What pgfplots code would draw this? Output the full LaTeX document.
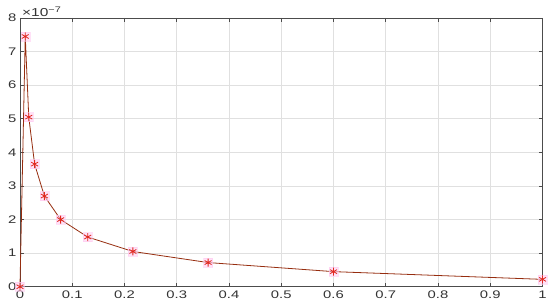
\documentclass[border=0pt]{standalone}
\usepackage{fontspec}
\setmainfont{Liberation Sans}
\usepackage{graphicx}
\usepackage{pgfplots}
\pgfplotsset{compat=1.18}
\definecolor{curve}{RGB}{150,45,15}
\definecolor{marks}{RGB}{225,40,30}
\definecolor{glow}{RGB}{255,200,240}

\begin{document}
\begin{tikzpicture}
\begin{axis}[
    scale only axis,
    width=523pt, height=269pt,
    xmin=0, xmax=1, ymin=0, ymax=8e-7,
    xtick={0,0.1,...,1},
    ytick={0,1e-7,2e-7,3e-7,4e-7,5e-7,6e-7,7e-7,8e-7},
    /pgf/number format/fixed,
    xticklabel={\scalebox{1.35}[1]{\axisdefaultticklabel}},
    yticklabel={\scalebox{1.35}[1]{\axisdefaultticklabel}},
    scaled y ticks=base 10:7,
    ytick scale label code/.code={\scalebox{1.35}[1]{×10\textsuperscript{−7}}},
    every y tick scale label/.style={at={(rel axis cs:0,1)}, anchor=south west, inner sep=1pt, xshift=1pt, font=\fontsize{11.5}{14}\selectfont, text=black!80},
    /pgf/number format/assume math mode=true,
    tick label style={font=\fontsize{11}{13}\selectfont, text=black!80},
    xticklabel style={yshift=-1pt},
    tick align=inside,
    major tick length=4pt,
    axis line style={black!70, line width=0.6pt},
    tick style={black!70, line width=0.6pt},
    grid=major,
    major grid style={black!12, line width=0.8pt},
    xtick pos=both, ytick pos=both,
    xticklabel pos=lower, yticklabel pos=left,
    clip=false,
]
\addplot[only marks, mark=square*, mark size=4.5pt, mark options={fill=glow, draw=glow, opacity=0.55}]
coordinates {
 (0,0) (0.01008,7.45e-7) (0.0168,5.05e-7) (0.028,3.65e-7) (0.0467,2.7e-7)
 (0.0778,2.0e-7) (0.1296,1.48e-7) (0.216,1.05e-7) (0.36,0.72e-7)
 (0.6,0.45e-7) (1,0.22e-7)
};
\addplot[color=curve, line width=0.8pt, mark=asterisk, mark size=4pt,
    mark options={draw=marks, line width=0.8pt}]
coordinates {
 (0,0) (0.01008,7.45e-7) (0.0168,5.05e-7) (0.028,3.65e-7) (0.0467,2.7e-7)
 (0.0778,2.0e-7) (0.1296,1.48e-7) (0.216,1.05e-7) (0.36,0.72e-7)
 (0.6,0.45e-7) (1,0.22e-7)
};
\coordinate (bl) at (rel axis cs:0,0);
\coordinate (tr) at (rel axis cs:1,1);
\end{axis}
\path ([shift={(-20pt,-19pt)}]bl) rectangle ([shift={(7pt,18pt)}]tr);
\end{tikzpicture}
\end{document}
